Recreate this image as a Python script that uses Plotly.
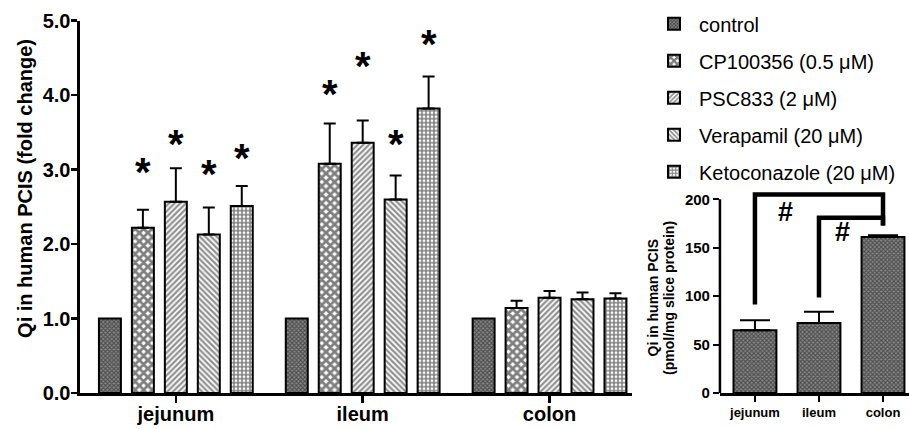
import plotly.graph_objects as go

# ---------------- data ----------------
regions = ["jejunum", "ileum", "colon"]
treatments = ["control", "CP100356 (0.5 μM)", "PSC833 (2 μM)",
              "Verapamil (20 μM)", "Ketoconazole (20 μM)"]
fold_change = {
    "control":              [1.00, 1.00, 1.00],
    "CP100356 (0.5 μM)":    [2.22, 3.08, 1.14],
    "PSC833 (2 μM)":        [2.57, 3.36, 1.28],
    "Verapamil (20 μM)":    [2.13, 2.60, 1.26],
    "Ketoconazole (20 μM)": [2.51, 3.82, 1.27],
}
fold_err = {
    "control":              [0.0, 0.0, 0.0],
    "CP100356 (0.5 μM)":    [0.24, 0.54, 0.10],
    "PSC833 (2 μM)":        [0.45, 0.30, 0.09],
    "Verapamil (20 μM)":    [0.36, 0.32, 0.09],
    "Ketoconazole (20 μM)": [0.27, 0.43, 0.07],
}
# significance stars (heights where the "*" sits) per treatment, per region
star_y = {
    "CP100356 (0.5 μM)":    [3.05, 4.10, None],
    "PSC833 (2 μM)":        [3.42, 4.47, None],
    "Verapamil (20 μM)":    [3.02, 3.43, None],
    "Ketoconazole (20 μM)": [3.24, 4.77, None],
}
y_ticks = [0, 1, 2, 3, 4, 5]
y_ticklabels = ["0.0", "1.0", "2.0", "3.0", "4.0", "5.0"]

qi_values = [64.8, 72.4, 161.0]
qi_err = [10.4, 11.4, 2.0]
qi_ticks = [0, 50, 100, 150, 200]
# significance brackets: from region, to region, bracket height, lower ends of the legs
bracket_from = [0, 1]
bracket_to = [2, 2]
bracket_h = [205, 181]
bracket_left_low = [91.5, 98.7]
bracket_right_low = [173, 173]
hash_x = [0.48, 1.36]
hash_y = [187, 166.5]

# ---------------- styles ----------------
FONT = "Liberation Sans, Arial, sans-serif"
patterns = {
    "control":              dict(shape="x", size=3, solidity=0.6, fgcolor="#111", bgcolor="#8a8a8a"),
    "CP100356 (0.5 μM)":    dict(shape="x", size=6, solidity=0.72, fgcolor="#000", bgcolor="#fff"),
    "PSC833 (2 μM)":        dict(shape="/", size=4, solidity=0.55, fgcolor="#222", bgcolor="#fff"),
    "Verapamil (20 μM)":    dict(shape="\\", size=4, solidity=0.55, fgcolor="#222", bgcolor="#fff"),
    "Ketoconazole (20 μM)": dict(shape="+", size=4, solidity=0.62, fgcolor="#000", bgcolor="#fff"),
}

n_tr = len(treatments)
bargap = 0.118
slot = (1 - bargap) / n_tr

fig = go.Figure()
for k, t in enumerate(treatments):
    has_err = any(e > 0 for e in fold_err[t])
    fig.add_trace(go.Bar(
        x=list(range(len(regions))), y=fold_change[t], name=t,
        legendgroup=t,
        marker=dict(color="#fff", line=dict(color="#000", width=2), pattern=patterns[t]),
        error_y=dict(type="data", array=fold_err[t], arrayminus=[0] * len(regions),
                     symmetric=False, color="#000", thickness=2, width=6, visible=has_err),
        xaxis="x", yaxis="y",
    ))

# stars
for k, t in enumerate(treatments):
    if t not in star_y:
        continue
    for g, sy in enumerate(star_y[t]):
        if sy is None:
            continue
        fig.add_annotation(x=g + (k - (n_tr - 1) / 2) * slot, y=sy, xref="x", yref="y",
                           text="<b>*</b>", showarrow=False, yanchor="middle",
                           font=dict(family=FONT, size=40, color="#000"), yshift=-6)

# main y-axis title
fig.add_annotation(xref="paper", yref="paper", x=0.0275, y=0.562, textangle=-90,
                   xanchor="center", yanchor="middle",
                   text="<b>Qi in human PCIS (fold change)</b>", showarrow=False,
                   font=dict(family=FONT, size=20, color="#000"))

# inset bars
fig.add_trace(go.Bar(
    x=list(range(len(regions))), y=qi_values, showlegend=False, width=0.67,
    marker=dict(color="#fff", line=dict(color="#000", width=2), pattern=patterns["control"]),
    error_y=dict(type="data", array=qi_err, arrayminus=[0] * 3, symmetric=False,
                 color="#000", thickness=2, width=15),
    xaxis="x2", yaxis="y2",
))
for a, b, h, la, lb in zip(bracket_from, bracket_to, bracket_h, bracket_left_low, bracket_right_low):
    fig.add_trace(go.Scatter(
        x=[a, a, b, b], y=[la, h, h, lb], mode="lines", showlegend=False,
        line=dict(color="#000", width=4.5), xaxis="x2", yaxis="y2",
        hoverinfo="skip"))
for hx, hy in zip(hash_x, hash_y):
    fig.add_annotation(x=hx, y=hy, xref="x2", yref="y2", text="<b>#</b>", showarrow=False,
                       yanchor="middle", font=dict(family=FONT, size=27, color="#000"))
# inset y-axis line (0..200 only) and title
fig.add_shape(type="line", xref="x2 domain", yref="y2", x0=0, x1=0, y0=0, y1=qi_ticks[-1],
              line=dict(color="#000", width=2.5))
fig.add_annotation(xref="x2 domain", yref="y2", x=-0.352, y=98, text="<b>Qi in human PCIS</b>",
                   xanchor="center", yanchor="middle",
                   textangle=-90, showarrow=False, font=dict(family=FONT, size=14, color="#000"))
fig.add_annotation(xref="x2 domain", yref="y2", x=-0.27, y=98, text="<b>(pmol/mg slice protein)</b>",
                   xanchor="center", yanchor="middle",
                   textangle=-90, showarrow=False, font=dict(family=FONT, size=14, color="#000"))

axis_common = dict(showgrid=False, zeroline=False, automargin=False, fixedrange=True,
                   linecolor="#000", tickcolor="#000", ticks="outside")

fig.update_layout(
    width=909, height=429,
    margin=dict(l=0, r=0, t=0, b=0, autoexpand=False),
    paper_bgcolor="#fff", plot_bgcolor="#fff",
    barmode="group", bargap=bargap, bargroupgap=0.333,
    font=dict(family=FONT, color="#000"),
    showlegend=True,
    legend=dict(x=0.714, y=0.99, xanchor="left", yanchor="top", itemwidth=40,
                font=dict(family=FONT, size=20, color="#000"),
                traceorder="grouped", tracegroupgap=8, bgcolor="rgba(0,0,0,0)"),
    xaxis=dict(domain=[0.088, 0.695], range=[-0.513, 2.44],
               tickvals=list(range(len(regions))), ticktext=[f"<b>{r}</b>" for r in regions],
               tickfont=dict(size=20), showline=True, linewidth=2.5, ticklabelstandoff=-6,
               ticklen=7, tickwidth=2.5, **axis_common),
    yaxis=dict(domain=[0.0839, 0.9517], range=[0, 5],
               tickvals=y_ticks, ticktext=[f"<b>{s}</b>" for s in y_ticklabels],
               tickfont=dict(size=20), showline=True, linewidth=2.5, ticklabelstandoff=-3,
               ticklen=6, tickwidth=2.5, **axis_common),
    xaxis2=dict(domain=[0.792, 1.0], range=[-0.547, 2.406], anchor="y2",
                tickvals=list(range(len(regions))), ticktext=[f"<b>{r}</b>" for r in regions],
                tickfont=dict(size=13), showline=True, linewidth=2.5,
                ticklen=6, tickwidth=2, **axis_common),
    yaxis2=dict(domain=[0.0839, 0.5625], range=[0, 212], anchor="x2",
                tickvals=qi_ticks, ticktext=[f"<b>{v}</b>" for v in qi_ticks],
                tickfont=dict(size=15), showline=False,
                ticklen=6, tickwidth=2, **axis_common),
)

fig.write_html("out.html", config={"displayModeBar": False, "staticPlot": True},
               post_script="document.body.style.margin='0px';document.body.style.overflow='hidden';")
